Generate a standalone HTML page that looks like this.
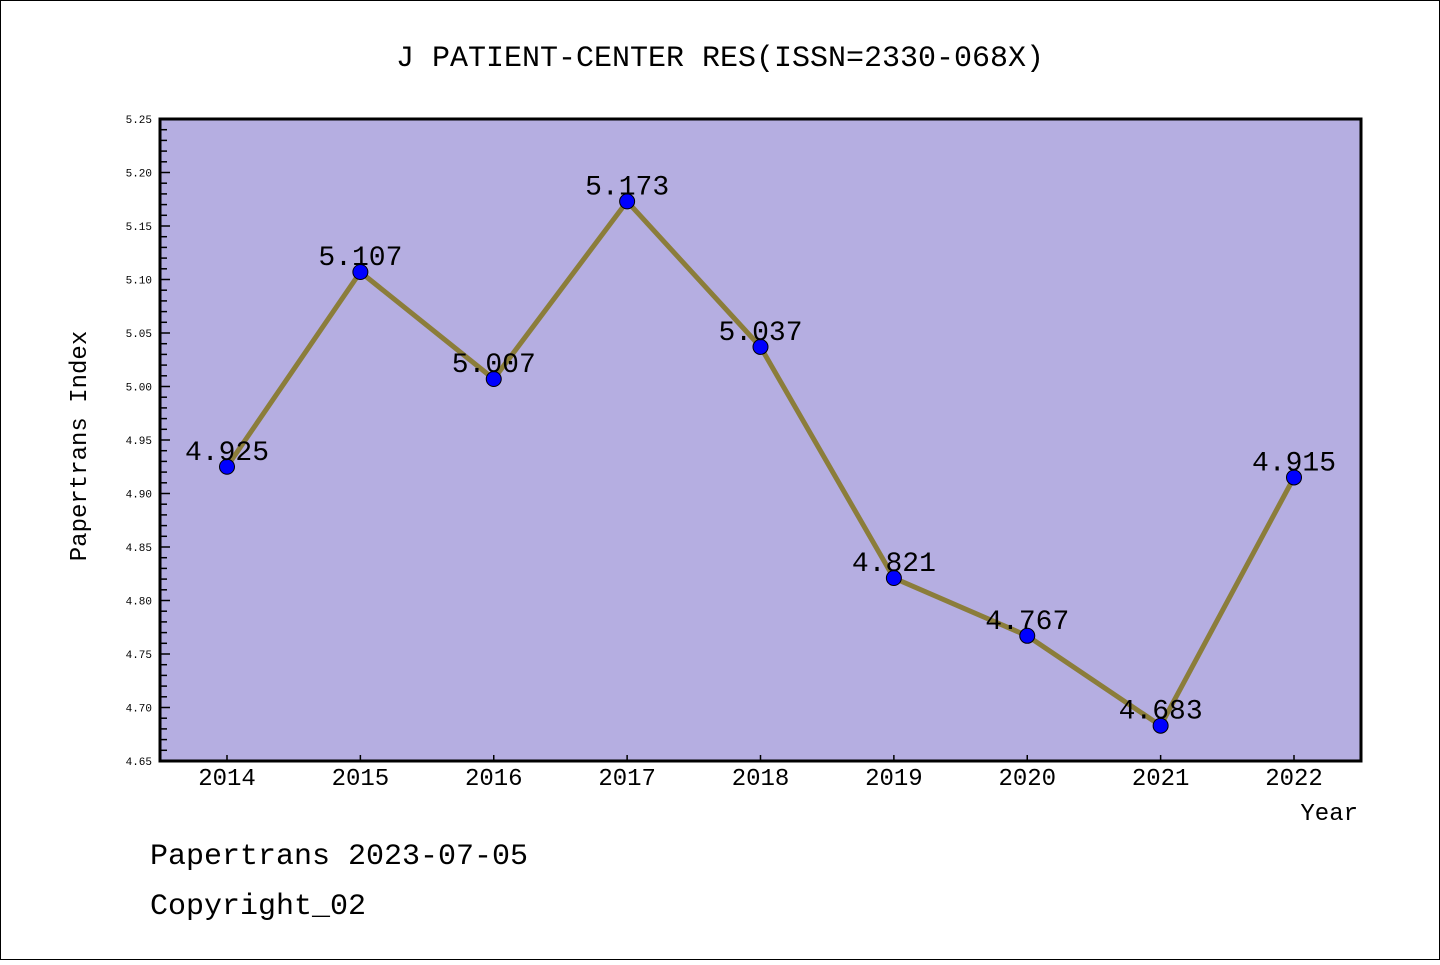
<!DOCTYPE html>
<html><head><meta charset="utf-8"><style>
body{margin:0;background:#fff}
svg text{font-family:"Liberation Mono","Noto Sans CJK SC",monospace}
</style></head><body>
<svg id="c" width="1440" height="960" xmlns="http://www.w3.org/2000/svg">
<rect x="0.5" y="0.5" width="1439" height="959" fill="#fff" stroke="#000"/>
<text x="720" y="66" text-anchor="middle" font-size="30">J PATIENT-CENTER RES(ISSN=2330-068X)</text>
<rect x="160" y="119" width="1201" height="642" fill="#b5aee1"/>
<g id="ticks"></g>
<g id="series"></g>
<rect x="160" y="119" width="1201" height="642" fill="none" stroke="#000" stroke-width="3"/>
<text x="86" y="446" transform="rotate(-90 86 446)" text-anchor="middle" font-size="24">Papertrans Index</text>
<text x="1358" y="820" text-anchor="end" font-size="24">Year</text>
<text x="150" y="864" font-size="30">Papertrans 2023-07-05</text>
<text x="150" y="914" font-size="30">Copyright_02</text>
</svg>
<script>
const years=["2014","2015","2016","2017","2018","2019","2020","2021","2022"];
const values=[4.925,5.107,5.007,5.173,5.037,4.821,4.767,4.683,4.915];
const labels=["4.925","5.107","5.007","5.173","5.037","4.821","4.767","4.683","4.915"];
const yTicks=["4.65","4.70","4.75","4.80","4.85","4.90","4.95","5.00","5.05","5.10","5.15","5.20","5.25"];
const NS="http://www.w3.org/2000/svg";
const yMin=4.65,yMax=5.25;
function y(v){return 761-(v-yMin)/(yMax-yMin)*642;}
function x(i){return 227+i*(1294-227)/(years.length-1);}
function mk(t,a,p){const e=document.createElementNS(NS,t);for(const k in a)e.setAttribute(k,a[k]);p.appendChild(e);return e;}
const tg=document.getElementById('ticks'),sg=document.getElementById('series');
for(let k=0;k<=60;k++){const v=yMin+k*0.01;const major=k%5===0;
 const l=mk('line',{x1:160,x2:160+(major?10:7),y1:y(v),y2:y(v),stroke:'#000','stroke-width':1.5},tg);
 
 }
yTicks.forEach(s=>{const t=mk('text',{x:152,y:y(parseFloat(s))+4,'text-anchor':'end','font-size':11,'font-family':'Liberation Sans, sans-serif'},tg);t.textContent=s;
 
 });
years.forEach((yr,i)=>{const l=mk('line',{x1:x(i),x2:x(i),y1:761,y2:755,stroke:'#000','stroke-width':1.5},tg);
 
 
 const t=mk('text',{x:x(i),y:785,'text-anchor':'middle','font-size':24,'font-family':'Liberation Sans, sans-serif'},tg);t.textContent=yr;
 
 });
const pl=mk('polyline',{points:values.map((v,i)=>x(i)+','+y(v)).join(' '),fill:'none',stroke:'#8b7d3a','stroke-width':5},sg);


values.forEach((v,i)=>{const c=mk('circle',{cx:x(i),cy:y(v),r:7.5,fill:'#0000ff',stroke:'#000','stroke-width':1},sg);
 
 
 const t=mk('text',{x:x(i),y:y(v)-7,'text-anchor':'middle','font-size':28},sg);t.textContent=labels[i];
 
 });
</script>
</body></html>
